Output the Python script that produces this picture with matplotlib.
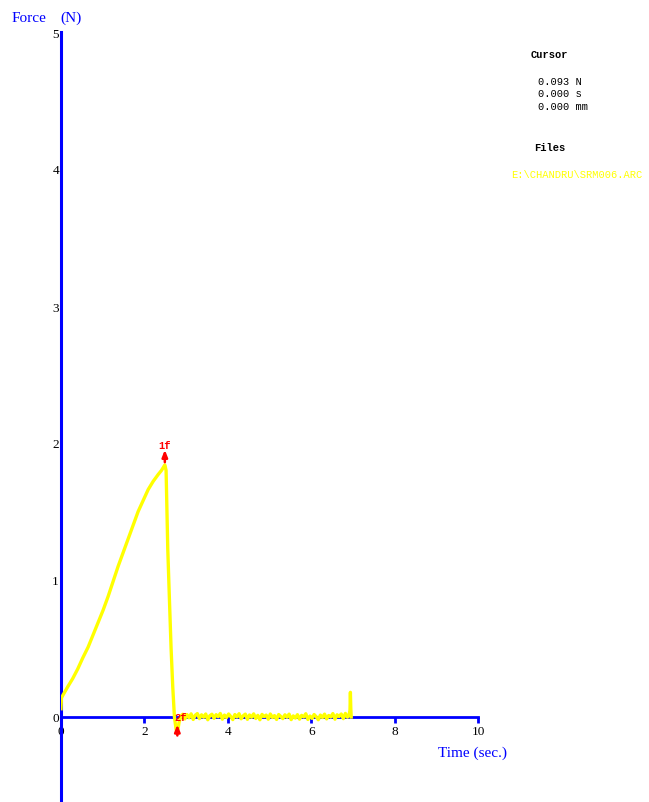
import matplotlib
matplotlib.use("Agg")
import matplotlib.pyplot as plt
import numpy as np

# Force vs time trace (seconds, newtons)
ramp_time = [0.0, 0.01, 0.16, 0.28, 0.40, 0.52, 0.65, 0.77, 0.89, 1.01, 1.13, 1.25,
             1.37, 1.49, 1.61, 1.73, 1.85, 1.97, 2.09, 2.21, 2.33, 2.41, 2.45, 2.49,
             2.52, 2.56, 2.60, 2.64, 2.68, 2.72, 2.76, 2.79, 2.83, 2.88, 2.92]
ramp_force = [0.06, 0.14, 0.22, 0.28, 0.35, 0.43, 0.51, 0.60, 0.69, 0.78, 0.88, 0.99,
              1.10, 1.20, 1.30, 1.40, 1.50, 1.58, 1.66, 1.72, 1.77, 1.80, 1.82, 1.84,
              1.80, 1.23, 0.86, 0.50, 0.22, 0.00, -0.09, -0.12, -0.04, 0.01, 0.02]

baseline_time = [2.97, 3.02, 3.07, 3.12, 3.17, 3.22, 3.27, 3.32, 3.37, 3.42,
                 3.47, 3.52, 3.57, 3.62, 3.67, 3.72, 3.77, 3.82, 3.87, 3.92,
                 3.97, 4.02, 4.07, 4.12, 4.17, 4.22, 4.27, 4.32, 4.37, 4.42,
                 4.47, 4.52, 4.57, 4.62, 4.67, 4.72, 4.77, 4.82, 4.87, 4.92,
                 4.97, 5.02, 5.07, 5.12, 5.17, 5.22, 5.27, 5.32, 5.37, 5.42,
                 5.47, 5.52, 5.57, 5.62, 5.67, 5.72, 5.77, 5.82, 5.87, 5.92,
                 5.97, 6.02, 6.07, 6.12, 6.17, 6.22, 6.27, 6.32, 6.37, 6.42,
                 6.47, 6.52, 6.57, 6.62, 6.67, 6.72, 6.77, 6.82, 6.87, 6.91]
baseline_force = [-0.014, 0.018, -0.006, 0.023, -0.018, 0.013, 0.025, -0.012, 0.016, -0.002,
                  0.022, -0.020, 0.010, 0.020, -0.010, 0.017, 0.002, 0.026, -0.016, 0.014,
                  -0.004, 0.022, 0.004, -0.019, 0.018, 0.000, 0.024, -0.013, 0.009, 0.021,
                  -0.017, 0.015, -0.002, 0.023, -0.011, 0.012, -0.020, 0.019, 0.003, 0.014,
                  -0.016, 0.022, -0.004, 0.010, -0.018, 0.018, 0.004, -0.012, 0.016, -0.002,
                  0.021, -0.019, 0.008, -0.008, 0.017, -0.016, 0.012, 0.000, 0.024, -0.018,
                  0.007, -0.010, 0.018, 0.002, -0.020, 0.014, -0.004, 0.021, -0.014, 0.011,
                  0.000, 0.025, -0.016, 0.016, 0.004, 0.022, -0.012, 0.026, -0.002, 0.018]

end_time = [6.93, 6.94, 6.95, 6.96]
end_force = [0.05, 0.18, 0.06, 0.00]

x_ticks = [0, 2, 4, 6, 8, 10]
y_ticks = [0, 1, 2, 3, 4, 5]

cursor_force = "0.093 N"
cursor_time = "0.000 s"
cursor_dist = "0.000 mm"
file_name = "E:\\CHANDRU\\SRM006.ARC"

time = np.array(ramp_time + baseline_time + end_time)
force = np.array(ramp_force + baseline_force + end_force)

W, H = 649, 803
fig = plt.figure(figsize=(W / 100, H / 100), dpi=100)
fig.patch.set_facecolor("white")

blue = "#0000ff"
yellow = "#ffff00"
red = "#ff0000"
serif = ["Liberation Serif", "DejaVu Serif"]
mono = ["Liberation Mono", "DejaVu Sans Mono"]

ax = fig.add_axes([61 / W, 0, (478 - 61) / W, (803 - 33) / H])
ax.set_xlim(0, 10)
ax.set_ylim(-(803 - 718) / 137, 5)
ax.set_facecolor("white")

for side in ("top", "right"):
    ax.spines[side].set_visible(False)
ax.spines["left"].set_color(blue)
ax.spines["left"].set_linewidth(2.2)
ax.spines["bottom"].set_position(("data", 0))
ax.spines["bottom"].set_color(blue)
ax.spines["bottom"].set_linewidth(2.0)

ax.set_xticks(x_ticks)
ax.set_xticklabels([str(v) for v in x_ticks], family=serif, fontsize=9.5, color="black")
ax.set_yticks(y_ticks)
ax.set_yticklabels([str(v) for v in y_ticks], family=serif, fontsize=9.5, color="black")
ax.tick_params(axis="x", direction="out", length=4, width=2, color=blue, pad=2)
ax.tick_params(axis="y", length=0, pad=1.5)

ax.plot(time, force, color=yellow, lw=2.4, zorder=3, solid_joinstyle="round")

arrow_style = dict(arrowstyle="-|>,head_length=0.4,head_width=0.16", color=red,
                   lw=1.8, mutation_scale=10, shrinkA=0, shrinkB=0)

# peak marker
i_peak = int(np.argmax(force))
t_peak, f_peak = time[i_peak], force[i_peak]
ax.annotate("", xy=(t_peak, f_peak + 0.11), xytext=(t_peak, f_peak + 0.02),
            arrowprops=arrow_style, zorder=4)
ax.text(t_peak, f_peak + 0.145, "1f", color=red, family=mono, fontsize=7.5,
        weight="bold", ha="center", va="center", zorder=4)

# failure marker
i_min = int(np.argmin(force))
t_min, f_min = time[i_min], force[i_min]
ax.annotate("", xy=(t_min, f_min + 0.065), xytext=(t_min, f_min - 0.015),
            arrowprops=arrow_style, zorder=4, annotation_clip=False)
ax.text(t_min - 0.06, 0.0, "2f", color=red, family=mono, fontsize=7.5,
        weight="bold", ha="left", va="center", zorder=4)

# axis titles
fig.text(12 / W, 1 - 18 / H, "Force", color=blue, family=serif, fontsize=11,
         ha="left", va="center")
fig.text(60 / W, 1 - 18 / H, "(N)", color=blue, family=serif, fontsize=11,
         ha="left", va="center")
fig.text(438 / W, 1 - 753 / H, "Time (sec.)", color=blue, family=serif, fontsize=11,
         ha="left", va="center")

# cursor readout panel
fig.text(531 / W, 1 - 55 / H, "Cursor", family=mono, fontsize=7.5, weight="bold",
         ha="left", va="center")
fig.text(538 / W, 1 - 82 / H, cursor_force, family=mono, fontsize=7.5, ha="left", va="center")
fig.text(538 / W, 1 - 94 / H, cursor_time, family=mono, fontsize=7.5, ha="left", va="center")
fig.text(538 / W, 1 - 107 / H, cursor_dist, family=mono, fontsize=7.5, ha="left", va="center")
fig.text(534 / W, 1 - 148 / H, "Files", family=mono, fontsize=7.5, weight="bold",
         ha="left", va="center")
fig.text(511 / W, 1 - 175 / H, file_name, family=mono, fontsize=7.5, color=yellow,
         ha="left", va="center")

fig.savefig("out.png", dpi=100, facecolor="white")
